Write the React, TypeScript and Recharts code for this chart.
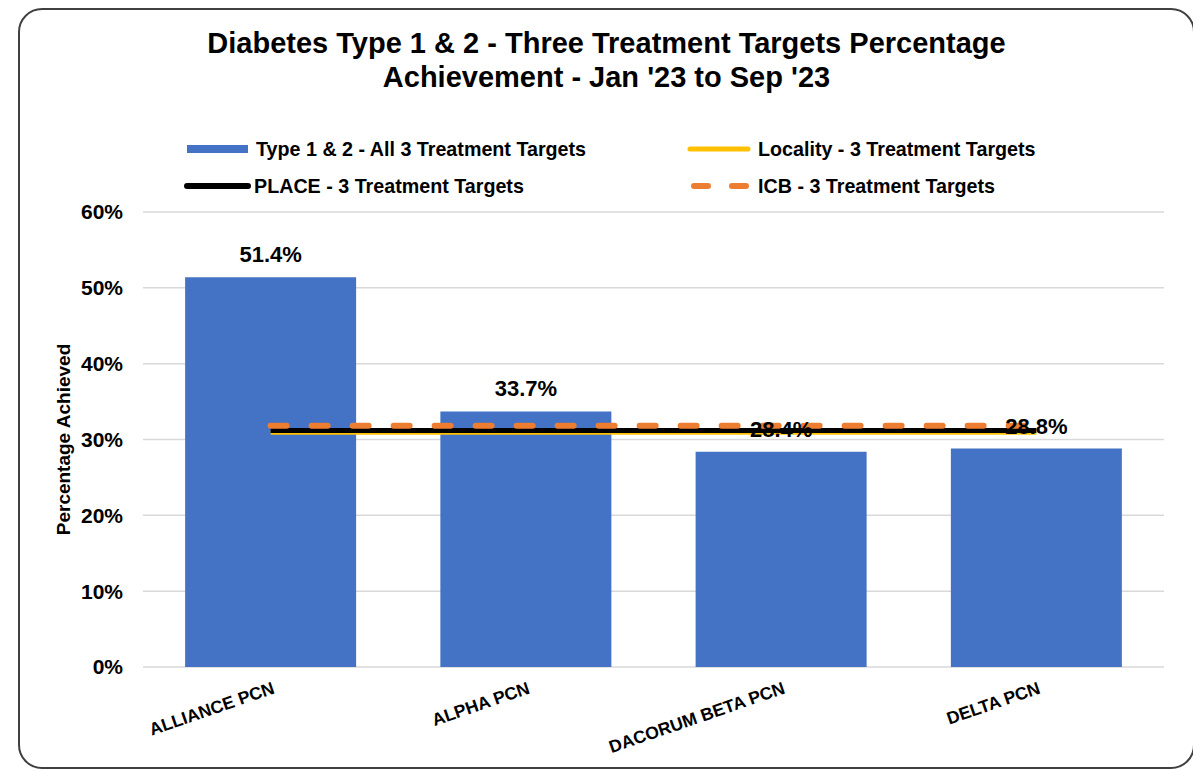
import React from 'react';
import { ComposedChart, Bar, Line, XAxis, YAxis, CartesianGrid, LabelList, Legend } from 'recharts';

const categories = ['ALLIANCE PCN', 'ALPHA PCN', 'DACORUM BETA PCN', 'DELTA PCN'];
const pcnValues = [51.4, 33.7, 28.4, 28.8];
const localityValues = [30.9, 30.9, 30.9, 30.9];
const placeValues = [31.2, 31.2, 31.2, 31.2];
const icbValues = [31.8, 31.8, 31.8, 31.8];
const yTicks = [0, 10, 20, 30, 40, 50, 60];
const titleLines = ["Diabetes Type 1 & 2 - Three Treatment Targets Percentage", "Achievement - Jan '23 to Sep '23"];
const seriesNames = {
  pcn: 'Type 1 & 2 - All 3 Treatment Targets',
  locality: 'Locality - 3 Treatment Targets',
  place: 'PLACE - 3 Treatment Targets',
  icb: 'ICB - 3 Treatment Targets',
};

const data = categories.map((name, i) => ({
  name,
  pcn: pcnValues[i],
  locality: localityValues[i],
  place: placeValues[i],
  icb: icbValues[i],
}));

const FONT = '"Liberation Sans", Arial, sans-serif';
const BLUE = '#4472C4';
const YELLOW = '#FFC000';
const ORANGE = '#ED7D31';

const XTick = (props: any) => {
  const { x, y, payload } = props;
  const ax = x + 5;
  const ay = y + 18;
  return (
    <text
      x={ax}
      y={ay}
      textAnchor="end"
      transform={`rotate(-19, ${ax}, ${ay})`}
      fontFamily={FONT}
      fontWeight="bold"
      fontSize={17.6}
      fill="#000"
    >
      {payload.value}
    </text>
  );
};

const LegendContent = () => {
  const ts = { fontFamily: FONT, fontWeight: 'bold' as const, fontSize: 19.7, fill: '#000' };
  return (
    <svg width={1173} height={80} style={{ display: 'block', overflow: 'visible' }}>
      <rect x={167} y={25} width={61} height={8} fill={BLUE} />
      <text x={236} y={36} {...ts}>{seriesNames.pcn}</text>
      <line x1={670} x2={728} y1={29} y2={29} stroke={YELLOW} strokeWidth={5} strokeLinecap="round" />
      <text x={738} y={36} {...ts}>{seriesNames.locality}</text>
      <line x1={167} x2={228} y1={66} y2={66} stroke="#000" strokeWidth={6} strokeLinecap="round" />
      <text x={234} y={73} {...ts}>{seriesNames.place}</text>
      <line x1={674} x2={732} y1={66} y2={66} stroke={ORANGE} strokeWidth={6} strokeDasharray="14 24" strokeLinecap="round" />
      <text x={738} y={73} {...ts}>{seriesNames.icb}</text>
    </svg>
  );
};

const YLabel = (props: any) => {
  const { viewBox } = props;
  const cx = 43;
  const cy = viewBox.y + viewBox.height / 2;
  return (
    <text
      x={cx}
      y={cy}
      textAnchor="middle"
      dominantBaseline="central"
      transform={`rotate(-90, ${cx}, ${cy})`}
      fontFamily={FONT}
      fontWeight="bold"
      fontSize={19}
      fill="#000"
    >
      Percentage Achieved
    </text>
  );
};

export default function App() {
  return (
    <div
      style={{
        position: 'relative',
        marginLeft: 10,
        width: 1173,
        height: 757,
        border: '2px solid #404040',
        borderRadius: 24,
        background: '#fff',
        fontFamily: FONT,
      }}
    >
      <div
        style={{
          position: 'absolute',
          top: 16,
          left: 0,
          width: 1173,
          textAlign: 'center',
          fontFamily: FONT,
          fontWeight: 'bold',
          fontSize: 29,
          lineHeight: '34px',
          color: '#000',
          zIndex: 2,
        }}
      >
        <div>{titleLines[0]}</div>
        <div>{titleLines[1]}</div>
      </div>
      <ComposedChart
        width={1173}
        height={757}
        data={data}
        margin={{ top: 202, right: 29, bottom: 40, left: 63 }}
        barCategoryGap="16.5%"
      >
        <CartesianGrid horizontal vertical={false} stroke="#d9d9d9" strokeWidth={1.5} />
        <XAxis
          dataKey="name"
          axisLine={false}
          tickLine={false}
          interval={0}
          height={60}
          tick={<XTick />}
        />
        <YAxis
          domain={[0, 60]}
          ticks={yTicks}
          axisLine={false}
          tickLine={false}
          width={60}
          tickMargin={14}
          tickFormatter={(v: number) => `${v}%`}
          tick={{ fontFamily: FONT, fontWeight: 'bold', fontSize: 21, fill: '#000' }}
          label={<YLabel />}
        />
        <Legend
          content={<LegendContent />}
          wrapperStyle={{ position: 'absolute', top: 110, left: 0, width: 1173, height: 0, overflow: 'visible' }}
        />
        <Bar dataKey="pcn" name={seriesNames.pcn} fill={BLUE} isAnimationActive={false}>
          <LabelList
            dataKey="pcn"
            position="top"
            offset={15}
            formatter={(v: any) => `${Number(v).toFixed(1)}%`}
            style={{ fontFamily: FONT, fontWeight: 'bold', fontSize: 22, fill: '#000' }}
          />
        </Bar>
        <Line dataKey="locality" name={seriesNames.locality} stroke={YELLOW} strokeWidth={4} dot={false} activeDot={false} isAnimationActive={false} />
        <Line dataKey="place" name={seriesNames.place} stroke="#000" strokeWidth={5} dot={false} activeDot={false} isAnimationActive={false} />
        <Line dataKey="icb" name={seriesNames.icb} stroke={ORANGE} strokeWidth={6} strokeDasharray="16 25" strokeLinecap="round" dot={false} activeDot={false} isAnimationActive={false} />
      </ComposedChart>
    </div>
  );
}
